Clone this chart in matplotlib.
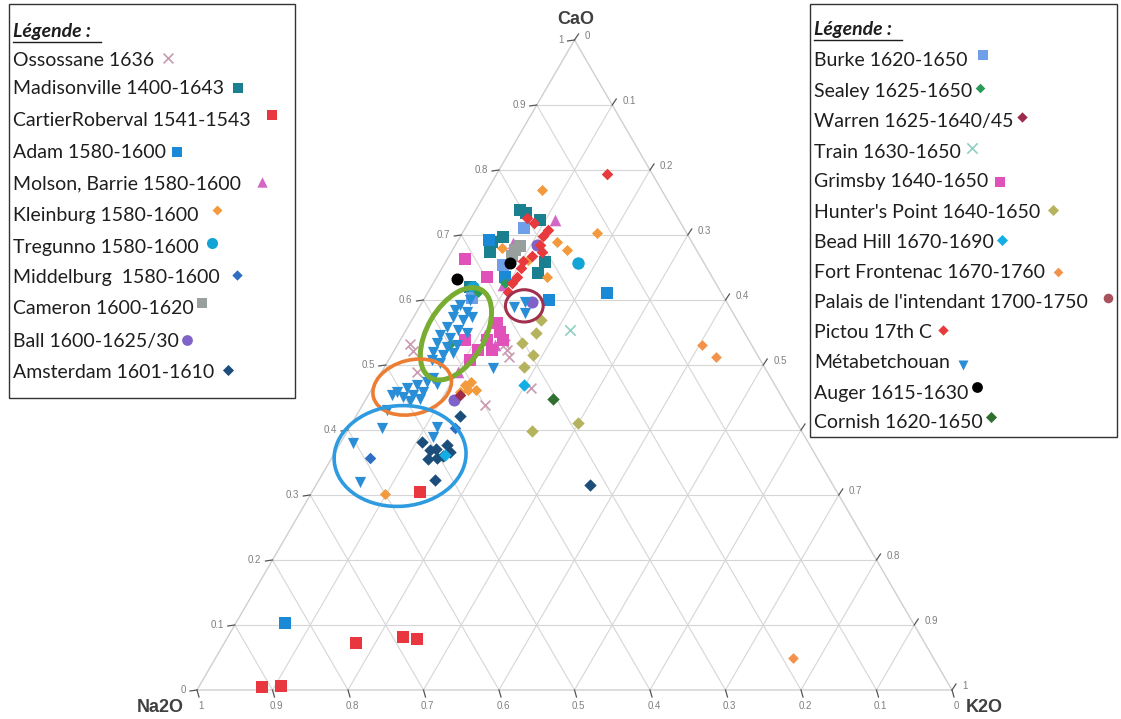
import numpy as np
import matplotlib.pyplot as plt
from matplotlib.patches import Ellipse, Rectangle

plt.rcParams['font.family'] = ['Liberation Sans', 'DejaVu Sans']

# compositions: CaO and K2O fractions (Na2O is the rest)
ossossane_cao = [0.532, 0.522, 0.489, 0.438, 0.523, 0.512, 0.465, 0.532]
ossossane_k2o = [0.016, 0.025, 0.047, 0.162, 0.149, 0.157, 0.210, 0.142]
madisonville_cao = [0.738, 0.734, 0.697, 0.689, 0.674, 0.642, 0.658, 0.723, 0.620]
madisonville_k2o = [0.059, 0.069, 0.057, 0.046, 0.051, 0.130, 0.132, 0.093, 0.052]
cartier_cao = [0.005, 0.006, 0.072, 0.082, 0.078, 0.305]
cartier_k2o = [0.084, 0.108, 0.174, 0.232, 0.252, 0.143]
adam_cao = [0.103, 0.611, 0.692, 0.600, 0.635]
adam_k2o = [0.065, 0.238, 0.041, 0.166, 0.090]
molson_cao = [0.723, 0.688, 0.623, 0.546, 0.531, 0.489]
molson_k2o = [0.113, 0.075, 0.094, 0.108, 0.129, 0.101]
kleinburg_cao = [0.769, 0.703, 0.689, 0.677, 0.680, 0.635, 0.662, 0.302,
                 0.469, 0.474, 0.462, 0.458, 0.462]
kleinburg_k2o = [0.072, 0.178, 0.132, 0.152, 0.064, 0.146, 0.108, 0.098,
                 0.120, 0.126, 0.128, 0.119, 0.139]
tregunno_cao = [0.657, 0.620]
tregunno_k2o = [0.176, 0.055]
middelburg_cao = [0.357, 0.403]
middelburg_k2o = [0.051, 0.140]
cameron_cao = [0.677, 0.683, 0.668]
cameron_k2o = [0.083, 0.086, 0.083]
ball_cao = [0.446, 0.685, 0.597]
ball_k2o = [0.117, 0.108, 0.145]
amsterdam_cao = [0.422, 0.382, 0.369, 0.371, 0.355, 0.357, 0.377, 0.366, 0.360, 0.323, 0.315]
amsterdam_k2o = [0.138, 0.107, 0.124, 0.131, 0.128, 0.139, 0.143, 0.152, 0.146, 0.154, 0.363]
burke_cao = [0.711, 0.654, 0.603]
burke_k2o = [0.078, 0.078, 0.063]
sealey_cao = [0.626, 0.532, 0.612]
sealey_k2o = [0.095, 0.069, 0.066]
warren_cao = [0.454]
warren_k2o = [0.121]
train_cao = [0.554]
train_k2o = [0.217]
grimsby_cao = [0.663, 0.635, 0.565, 0.551, 0.538, 0.523, 0.508, 0.523, 0.538, 0.538]
grimsby_k2o = [0.023, 0.066, 0.115, 0.126, 0.115, 0.111, 0.108, 0.129, 0.086, 0.136]
hunters_cao = [0.569, 0.549, 0.534, 0.515, 0.497, 0.411, 0.398]
hunters_k2o = [0.171, 0.174, 0.164, 0.187, 0.185, 0.299, 0.245]
beadhill_cao = [0.469, 0.362]
beadhill_k2o = [0.199, 0.148]
frontenac_cao = [0.531, 0.512, 0.049]
frontenac_k2o = [0.403, 0.431, 0.765]
palais_cao = []
palais_k2o = []
pictou_cao = [0.794, 0.718, 0.708, 0.698, 0.674, 0.668, 0.660, 0.649, 0.635, 0.626,
              0.612, 0.726, 0.685]
pictou_k2o = [0.146, 0.088, 0.111, 0.109, 0.120, 0.110, 0.102, 0.105, 0.106, 0.104,
              0.106, 0.074, 0.112]
metab_cao = [0.592, 0.582, 0.574, 0.569, 0.558, 0.554, 0.546, 0.542, 0.549, 0.534,
             0.528, 0.531, 0.520, 0.515, 0.518, 0.508, 0.503, 0.574, 0.585, 0.600,
             0.458, 0.465, 0.469, 0.474, 0.480, 0.451, 0.454, 0.458, 0.471, 0.454,
             0.448, 0.445, 0.431,
             0.403, 0.380, 0.320, 0.405, 0.389, 0.495, 0.589, 0.597, 0.580]
metab_k2o = [0.052, 0.067, 0.052, 0.068, 0.052, 0.069, 0.049, 0.064, 0.083, 0.051,
             0.067, 0.079, 0.053, 0.068, 0.080, 0.057, 0.070, 0.077, 0.049, 0.062,
             0.036, 0.046, 0.057, 0.068, 0.073, 0.047, 0.059, 0.070, 0.083, 0.031,
             0.072, 0.060, 0.036,
             0.043, 0.017, 0.056, 0.115, 0.118, 0.144, 0.126, 0.136, 0.144]
auger_cao = [0.632, 0.657]
auger_k2o = [0.028, 0.086]
cornish_cao = [0.448]
cornish_k2o = [0.248]

# label, CaO, K2O, marker, colour, size
left_series = [
    ("Ossossane 1636", ossossane_cao, ossossane_k2o, 'x', '#c99ab0', 50),
    ("Madisonville 1400-1643", madisonville_cao, madisonville_k2o, 's', '#1a7f8e', 75),
    ("CartierRoberval 1541-1543", cartier_cao, cartier_k2o, 's', '#e8373f', 65),
    ("Adam 1580-1600", adam_cao, adam_k2o, 's', '#1b8ad6', 65),
    ("Molson, Barrie 1580-1600", molson_cao, molson_k2o, '^', '#d466c6', 70),
    ("Kleinburg 1580-1600", kleinburg_cao, kleinburg_k2o, 'D', '#f29a3c', 32),
    ("Tregunno 1580-1600", tregunno_cao, tregunno_k2o, 'o', '#13a4d6', 80),
    ("Middelburg  1580-1600", middelburg_cao, middelburg_k2o, 'D', '#2e6fc3', 35),
    ("Cameron 1600-1620", cameron_cao, cameron_k2o, 's', '#98a09e', 65),
    ("Ball 1600-1625/30", ball_cao, ball_k2o, 'o', '#7f63c8', 75),
    ("Amsterdam 1601-1610", amsterdam_cao, amsterdam_k2o, 'D', '#1c4e7c', 40),
]
right_series = [
    ("Burke 1620-1650", burke_cao, burke_k2o, 's', '#6f9fe8', 65),
    ("Sealey 1625-1650", sealey_cao, sealey_k2o, 'D', '#2a9a58', 30),
    ("Warren 1625-1640/45", warren_cao, warren_k2o, 'D', '#9e2b4b', 35),
    ("Train 1630-1650", train_cao, train_k2o, 'x', '#8fd0c0', 55),
    ("Grimsby 1640-1650", grimsby_cao, grimsby_k2o, 's', '#e052b9', 65),
    ("Hunter's Point 1640-1650", hunters_cao, hunters_k2o, 'D', '#b6b35e', 40),
    ("Bead Hill 1670-1690", beadhill_cao, beadhill_k2o, 'D', '#12aee4', 40),
    ("Fort Frontenac 1670-1760", frontenac_cao, frontenac_k2o, 'D', '#f3924a', 30),
    ("Palais de l'intendant 1700-1750", palais_cao, palais_k2o, 'o', '#a9525c', 60),
    ("Pictou 17th C", pictou_cao, pictou_k2o, 'D', '#e8393c', 35),
    ("Métabetchouan", metab_cao, metab_k2o, 'v', '#2a8ed6', 65),
    ("Auger 1615-1630", auger_cao, auger_k2o, 'o', '#000000', 75),
    ("Cornish 1620-1650", cornish_cao, cornish_k2o, 'D', '#2f6f2f', 40),
]

# highlight ellipses: centre CaO, centre K2O, width, height, angle, colour, line width
ell_cao = [0.548, 0.466, 0.360, 0.591]
ell_k2o = [0.069, 0.052, 0.089, 0.138]
ell_w = [0.135, 0.106, 0.175, 0.050]
ell_h = [0.076, 0.072, 0.134, 0.043]
ell_ang = [60, 15, 5, 0]
ell_col = ['#78ad32', '#ec7e33', '#2e9be0', '#a0304e']
ell_lw = [3.6, 2.6, 2.6, 2.2]


def tern(cao, k2o):
    cao = np.asarray(cao, float)
    k2o = np.asarray(k2o, float)
    return k2o + cao / 2, cao * np.sqrt(3) / 2


W, H = 1121, 719
fig = plt.figure(figsize=(W / 100, H / 100), dpi=100)
ax = fig.add_axes([0, 0, 1, 1])
px = 755.0
py = 650 / (np.sqrt(3) / 2)
ax.set_xlim(-197 / px, (W - 197) / px)
ax.set_ylim(-(H - 690) / py, 690 / py)
ax.axis('off')

grid_kw = dict(color='#d6d6d6', lw=0.8, zorder=1)
for v in np.arange(1, 10) / 10:
    ax.plot(*tern([v, v], [0, 1 - v]), **grid_kw)
    ax.plot(*tern([0, 1 - v], [v, v]), **grid_kw)
    ax.plot(*tern([0, 1 - v], [1 - v, 0]), **grid_kw)
ax.plot(*tern([0, 0, 1, 0], [0, 1, 0, 0]), color='#cfcfcf', lw=1, zorder=1)

lab_kw = dict(color='#7f7f7f', fontsize=7)
tick_kw = dict(color='#555555', lw=0.9, zorder=2)
for v in np.round(np.arange(0, 11) / 10, 1):
    # CaO axis on the left edge
    x, y = tern(v, 0)
    ax.plot([x, x - 7 / px], [y, y - 1 / py], **tick_kw)
    ax.text(x - 11 / px, y, f"{v:g}", ha='right', va='center', **lab_kw)
    # K2O axis on the right edge (the label under the right legend box is hidden there)
    x, y = tern(v, 1 - v)
    ax.plot([x, x + 4 / px], [y, y + 6 / py], **tick_kw)
    lx, ly = x + 10 / px, y + 4 / py
    if not (197 + lx * px > 805 and 690 - ly * py < 440):
        ax.text(lx, ly, f"{round(1 - v, 1):g}", ha='left', va='center', **lab_kw)
    # Na2O axis along the base
    x, y = tern(0, 1 - v)
    ax.plot([x, x + 2 / px], [y, y - 7 / py], **tick_kw)
    ax.text(x + 4 / px, y - 16 / py, f"{v:g}", ha='center', va='center', **lab_kw)

for lab, cao, k2o, mk, col, s in left_series + right_series:
    x, y = tern(cao, k2o)
    if mk == 'x':
        ax.scatter(x, y, marker=mk, color=col, s=s, linewidths=1.2, zorder=3)
    else:
        ax.scatter(x, y, marker=mk, color=col, s=s, linewidths=0, zorder=3)

for i in range(len(ell_cao)):
    ex, ey = tern(ell_cao[i], ell_k2o[i])
    ax.add_patch(Ellipse((ex, ey), ell_w[i], ell_h[i], angle=ell_ang[i], fill=False,
                         edgecolor=ell_col[i], lw=ell_lw[i], zorder=4))

title_kw = dict(fontsize=13, fontweight='bold', color='#404040')
fig.text(576 / W, 1 - 20 / H, "CaO", ha='center', va='center', **title_kw)
fig.text(160 / W, 1 - 707 / H, "Na2O", ha='center', va='center', **title_kw)
fig.text(984 / W, 1 - 707 / H, "K2O", ha='center', va='center', **title_kw)

# legend boxes drawn in pixel space
lg = fig.add_axes([0, 0, 1, 1])
lg.set_xlim(0, W)
lg.set_ylim(H, 0)
lg.axis('off')
renderer = fig.canvas.get_renderer()

leg_font = dict(family=['Lato', 'DejaVu Sans'], fontsize=14, color='#1e1e1e')
boxes = [
    (9, 4, 286, 394, left_series, 13,
     [32, 60, 89, 120, 153, 184, 216, 247, 278, 309, 341, 373],
     [(168, 58), (238, 88), (272, 115), (177, 152), (262, 182), (217, 210),
      (212, 243), (237, 275), (202, 303), (182, 340), (228, 370)]),
    (810, 4, 307, 433, right_series, 814,
     [30, 61, 91, 121, 152, 182, 212, 242, 272, 302, 333, 363, 393, 423],
     [(983, 55), (980, 88), (1022, 117), (972, 148), (1000, 182), (1053, 210),
      (1002, 240), (1058, 272), (1108, 298), (943, 330), (963, 365), (977, 387),
      (990, 417)]),
]
for bx, by, bw, bh, series, tx, rows, mpos in boxes:
    lg.add_patch(Rectangle((bx, by), bw, bh, facecolor='white', edgecolor='#333333', lw=1))
    lg.text(tx, rows[0], "Légende :", ha='left', va='center', fontweight='bold',
            style='italic', **leg_font)
    lg.plot([tx, tx + 88], [rows[0] + 10, rows[0] + 10], color='#1e1e1e', lw=1)
    for (lab, cao, k2o, mk, col, s), ty, (mx, my) in zip(series, rows[1:], mpos):
        t = lg.text(tx, ty, lab, ha='left', va='center', **leg_font)
        # keep the marker clear of the end of its label
        mx = max(mx, t.get_window_extent(renderer).x1 + 8)
        if mk == 'x':
            lg.scatter([mx], [my], marker=mk, color=col, s=s, linewidths=1.2)
        else:
            lg.scatter([mx], [my], marker=mk, color=col, s=s * 0.8, linewidths=0)

fig.savefig('out.png', dpi=100)
